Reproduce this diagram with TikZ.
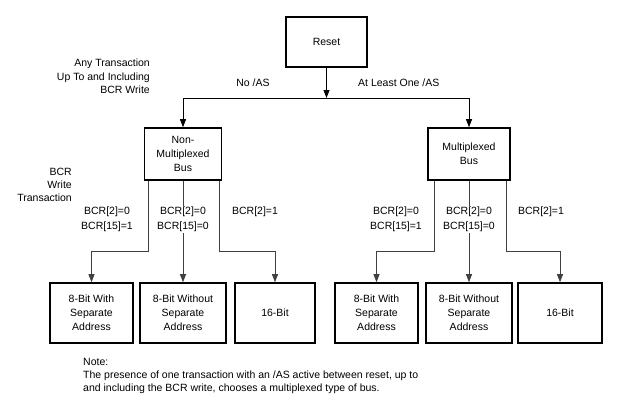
\documentclass[tikz,border=0pt]{standalone}
\usepackage{fontspec}
\setmainfont{Liberation Sans}
\usetikzlibrary{arrows.meta}
\begin{document}
\begin{tikzpicture}[x=1pt,y=-1pt,
 box/.style={draw=black, line width=1.6pt, align=center, inner sep=0pt, font=\fontsize{10.5}{14}\selectfont},
 conn/.style={draw=black!75, line width=0.8pt, -{Triangle[length=8pt,width=6pt]}},
 plain/.style={draw=black!75, line width=0.8pt},
 lbl/.style={font=\fontsize{10.5}{15}\selectfont, align=center, inner sep=1pt},
 side/.style={font=\fontsize{10.5}{13.3}\selectfont, align=right, inner sep=1pt, anchor=east},
 ]
\useasboundingbox (0,0) rectangle (617,400);
% boxes
\node[box, minimum width=81pt, minimum height=50pt] (reset) at (326.5,42) {Reset};
\node[box, minimum width=77pt, minimum height=52pt] (nm) at (183,154) {Non-\\Multiplexed\\Bus};
\node[box, minimum width=82pt, minimum height=52pt] (mx) at (469,154) {Multiplexed\\Bus};
\node[box, minimum width=83pt, minimum height=60pt] (b1) at (91.5,313) {8-Bit With\\Separate\\Address};
\node[box, minimum width=86pt, minimum height=60pt] (b2) at (183,313) {8-Bit Without\\Separate\\Address};
\node[box, minimum width=80pt, minimum height=60pt] (b3) at (275,313) {16-Bit};
\node[box, minimum width=83pt, minimum height=60pt] (b4) at (376.5,313) {8-Bit With\\Separate\\Address};
\node[box, minimum width=86pt, minimum height=60pt] (b5) at (469,313) {8-Bit Without\\Separate\\Address};
\node[box, minimum width=84pt, minimum height=60pt] (b6) at (560,313) {16-Bit};
% junctions
\coordinate (j) at (326.5,98);
\coordinate (jl) at (183,98);
\coordinate (jr) at (469,98);
\coordinate (l1) at (148,251);
\coordinate (r1) at (219,251);
\coordinate (l2) at (434,251);
\coordinate (r2) at (506,251);
% top connectors
\draw[conn, draw=black] (reset.south) -- (j);
\draw[plain, draw=black] (jl) -- (jr);
\draw[conn, draw=black] (jl) -- (nm.north);
\draw[conn, draw=black] (jr) -- (mx.north);
% children of non-multiplexed
\draw[conn] (nm.south -| l1) -- (l1) -| (b1.north);
\draw[conn] (nm.south) -- (b2.north);
\draw[conn] (nm.south -| r1) -- (r1) -| (b3.north);
% children of multiplexed
\draw[conn] (mx.south -| l2) -- (l2) -| (b4.north);
\draw[conn] (mx.south) -- (b5.north);
\draw[conn] (mx.south -| r2) -- (r2) -| (b6.north);
% labels
\node[side] (t1) at (151,76.5) {Any Transaction\\Up To and Including\\BCR Write};
\node[lbl] (t2) at (253,83) {No /AS};
\node[lbl, anchor=west] (t3) at (357,83) {At Least One /AS};
\node[side] (t4) at (73,185) {BCR\\Write\\Transaction};
\node[lbl] (c1) at (107,219.5) {BCR[2]=0\\BCR[15]=1};
\node[lbl, fill=white] (c2) at (183,219.5) {BCR[2]=0\\BCR[15]=0};
\node[lbl] (c3) at (255,212) {BCR[2]=1};
\node[lbl] (c4) at (396,219.5) {BCR[2]=0\\BCR[15]=1};
\node[lbl, fill=white] (c5) at (469,219.5) {BCR[2]=0\\BCR[15]=0};
\node[lbl] (c6) at (541,212) {BCR[2]=1};
\node[lbl, anchor=north west, align=left, font=\fontsize{10.5}{13}\selectfont] (note) at (82,357) {Note:\\The presence of one transaction with an /AS active between reset, up to\\and including the BCR write, chooses a multiplexed type of bus.};
\end{tikzpicture}
\end{document}
